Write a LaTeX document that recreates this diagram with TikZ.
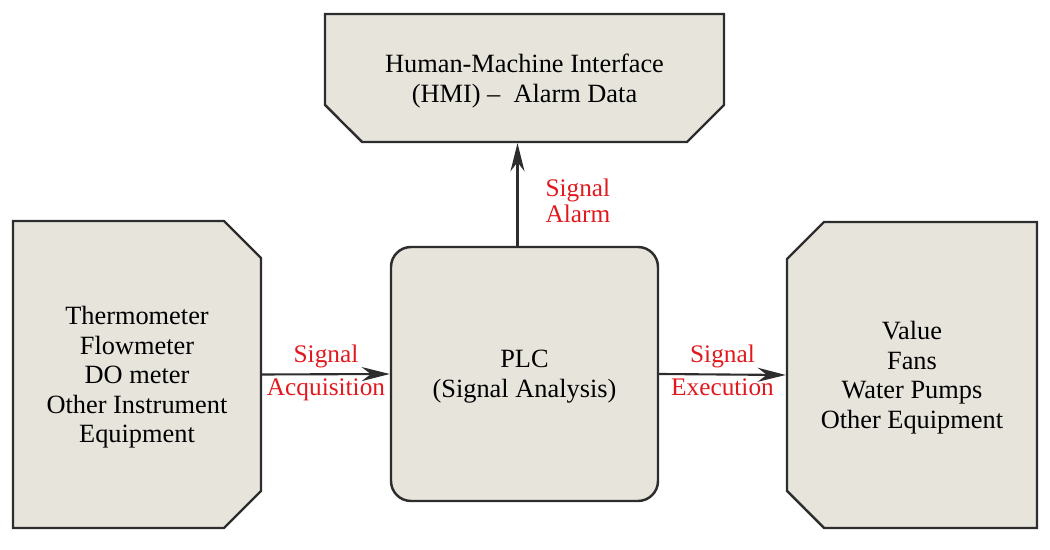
\documentclass[tikz,border=0pt]{standalone}
\usepackage{fontspec}
\setmainfont{Liberation Serif}
\usetikzlibrary{shapes.misc,arrows.meta}

\definecolor{boxfill}{RGB}{230,228,219}
\definecolor{boxedge}{RGB}{45,45,45}
\definecolor{sigred}{RGB}{225,25,30}

\tikzset{
  unit/.style={chamfered rectangle, chamfered rectangle xsep=3.7mm,
    chamfered rectangle ysep=3.7mm, draw=boxedge, fill=boxfill,
    line width=1.4pt, align=center, inner sep=0pt, text depth=-2.5pt,
    font=\fontsize{15}{16.8}\selectfont},
  plcbox/.style={rectangle, rounded corners=4mm, draw=boxedge, fill=boxfill,
    line width=1.4pt, align=center, inner sep=0pt, text depth=-2.5pt,
    font=\fontsize{15}{16.8}\selectfont},
  sigflow/.style={draw=boxedge, line width=1.2pt,
    -{Stealth[length=16pt, width=8pt]}},
  siglabel/.style={text=sigred, inner sep=0pt,
    font=\fontsize{14.4}{15}\selectfont}
}

\begin{document}
\begin{tikzpicture}
  \useasboundingbox (0,0) rectangle (21,11);

  % controller in the middle
  \node[plcbox, minimum width=5.34cm, minimum height=5.08cm] (plc)
    at (10.49,3.52) {PLC\\(Signal Analysis)};

  % instruments on the left, equipment driven on the right
  \node[unit, chamfered rectangle corners={north east,south east},
    minimum width=4.96cm, minimum height=6.14cm] (sens) at (2.74,3.51)
    {Thermometer\\Flowmeter\\DO meter\\Other Instrument\\Equipment};
  \node[unit, chamfered rectangle corners={north west,south west},
    minimum width=5cm, minimum height=6.12cm] (act) at (18.24,3.5)
    {Value\\Fans\\Water Pumps\\Other Equipment};

  % operator side on top
  \node[unit, chamfered rectangle corners={south west,south east},
    minimum width=7.98cm, minimum height=2.56cm] (hmi) at (10.49,9.44)
    {Human-Machine Interface\\(HMI) --~~Alarm Data};

  % signal paths
  \draw[sigflow] (sens.east) -- (plc.west)
    node[siglabel, midway, above=3pt] {Signal}
    node[siglabel, midway, below=2pt] {Acquisition};
  \draw[sigflow] (plc.east) -- (act.west)
    node[siglabel, midway, above=3pt] {Signal}
    node[siglabel, midway, below=2pt] {Execution};
  \draw[sigflow] ([xshift=-1.4mm]plc.north) -- ([xshift=-1.4mm]hmi.south)
    node[siglabel, midway, right=5.4mm, yshift=-1.3mm, align=left]
    {Signal\\Alarm};

\end{tikzpicture}
\end{document}
